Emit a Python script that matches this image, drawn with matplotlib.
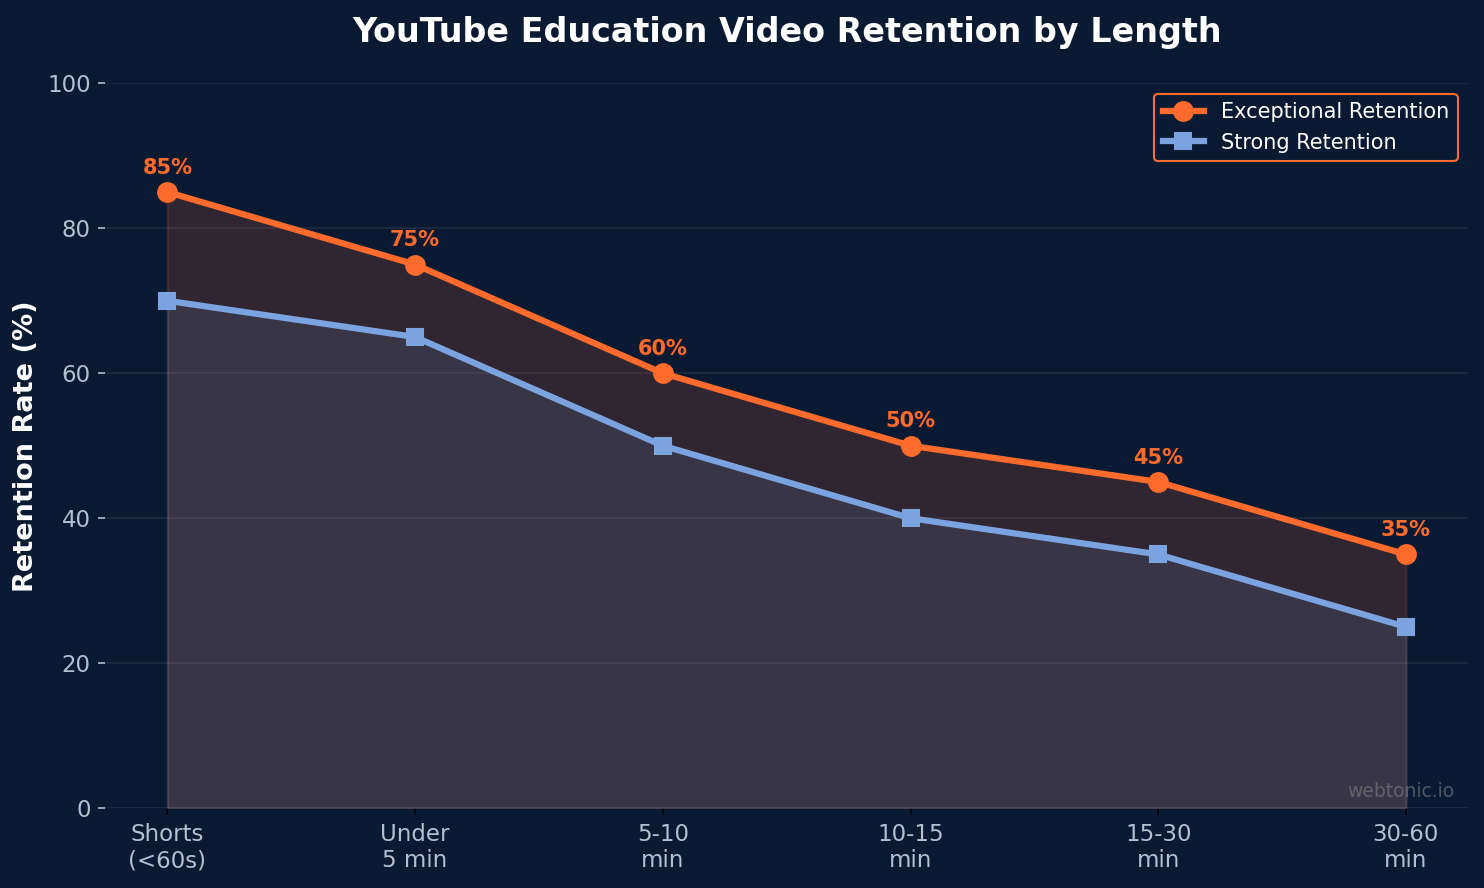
import numpy as np
import matplotlib.pyplot as plt

plt.rcParams['font.family'] = ['DejaVu Sans']

# data
lengths = ['Shorts\n(<60s)', 'Under\n5 min', '5-10\nmin', '10-15\nmin', '15-30\nmin', '30-60\nmin']
exceptional = [85, 75, 60, 50, 45, 35]
strong = [70, 65, 50, 40, 35, 25]

bg = '#0b1a33'
orange = '#ff6b2c'
blue = '#7ba3e0'
tickcol = '#b4bfd0'

fig, ax = plt.subplots(figsize=(9.895, 5.921), dpi=150)
fig.patch.set_facecolor(bg)
ax.set_facecolor(bg)

x = np.arange(len(lengths))
ax.fill_between(x, exceptional, color=orange, alpha=0.15)
ax.fill_between(x, strong, color=blue, alpha=0.12)
ax.plot(x, exceptional, color=orange, lw=3, marker='o', ms=9, label='Exceptional Retention')
ax.plot(x, strong, color=blue, lw=3, marker='s', ms=8, label='Strong Retention')

for xi, v in zip(x, exceptional):
    ax.annotate(f'{v}%', (xi, v), xytext=(0, 7), textcoords='offset points',
                ha='center', va='bottom', color=orange, fontsize=10, fontweight='bold')

ax.set_ylim(0, 100)
ax.set_xticks(x)
ax.set_xticklabels(lengths, fontsize=11, color=tickcol)
ax.tick_params(axis='y', colors=tickcol, labelsize=11)
ax.tick_params(axis='x', colors='black', labelcolor=tickcol)
ax.set_ylabel('Retention Rate (%)', color='white', fontsize=13, fontweight='bold')
ax.set_title('YouTube Education Video Retention by Length', color='white', fontsize=16,
             fontweight='bold', pad=20)
ax.grid(axis='y', color='white', alpha=0.08, lw=0.8)
ax.set_axisbelow(True)
for s in ax.spines.values():
    s.set_visible(False)

leg = ax.legend(loc='upper right', fontsize=10, facecolor=bg, edgecolor=orange, framealpha=1)
for t in leg.get_texts():
    t.set_color('white')

ax.text(0.99, 0.01, 'webtonic.io', transform=ax.transAxes, ha='right', va='bottom',
        color='gray', alpha=0.6, fontsize=9)

plt.subplots_adjust(left=0.071, right=0.989, top=0.906, bottom=0.09)
plt.savefig('out.png', facecolor=bg)
